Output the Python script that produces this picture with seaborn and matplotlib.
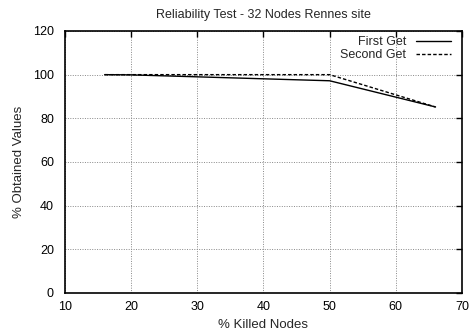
import matplotlib
matplotlib.use("Agg")
import matplotlib.pyplot as plt
import seaborn as sns
import pandas as pd

killed = [16, 20, 50, 66]
first_get = [100, 99.9, 97.2, 85.2]
second_get = [100, 100, 100, 85.2]
series_names = ["First Get", "Second Get"]

df = pd.concat([
    pd.DataFrame({"killed": killed, "value": first_get, "series": series_names[0]}),
    pd.DataFrame({"killed": killed, "value": second_get, "series": series_names[1]}),
])

sns.set_style("white")
plt.rcParams["font.family"] = ["Liberation Sans", "DejaVu Sans"]
plt.rcParams["font.size"] = 9

fig = plt.figure(figsize=(4.72, 3.35), dpi=100)
ax = fig.add_axes([0.1377, 0.1254, 0.8411, 0.7821])

sns.lineplot(data=df, x="killed", y="value", hue="series", style="series",
             palette=["black", "black"], dashes=[(None, None), (2.5, 1.5)],
             linewidth=1.0, ax=ax, legend=True)

ax.set_xlim(10, 70)
ax.set_ylim(0, 120)
ax.set_xticks(range(10, 71, 10))
ax.set_yticks(range(0, 121, 20))
ax.grid(True, color="#888888", linestyle=(0, (1, 1.5)), linewidth=0.7)
ax.tick_params(direction="in", length=4, width=1, top=True, right=True,
               labelsize=9, colors="black")
ax.tick_params(axis="y", pad=8)
ax.tick_params(axis="x", pad=6)
for s in ax.spines.values():
    s.set_linewidth(1.2)
    s.set_color("black")

ax.set_title("Reliability Test - 32 Nodes Rennes site", fontsize=9, pad=9)
ax.set_xlabel("% Killed Nodes", fontsize=9.5, labelpad=4)
ax.set_ylabel("% Obtained Values", fontsize=9.5, labelpad=6)

leg = ax.legend(loc="upper right", bbox_to_anchor=(0.991, 1.008),
                frameon=False, markerfirst=False,
                handlelength=2.8, fontsize=9, borderaxespad=0.2,
                labelspacing=0.05, handletextpad=0.8)
for h in leg.get_lines():
    h.set_linewidth(1.0)

fig.savefig("out.png", dpi=100)
